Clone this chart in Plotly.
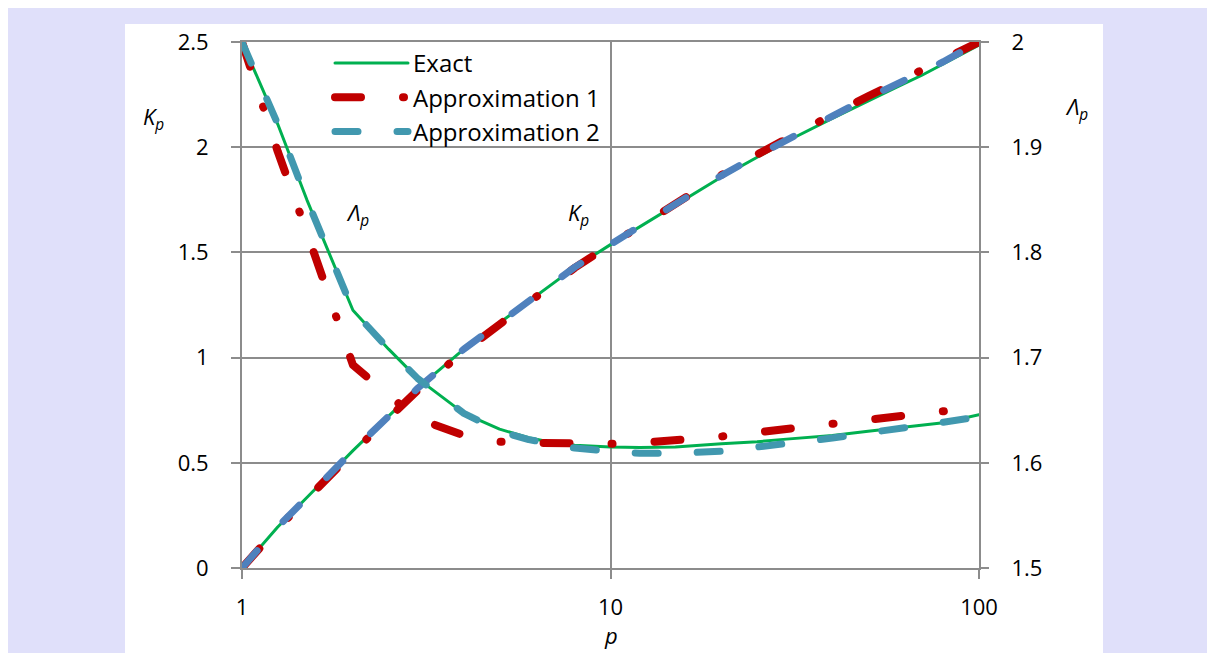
import plotly.graph_objects as go

# ---------------- data ----------------
p_exact = [1, 1.25, 1.5, 1.75, 2, 2.5, 3, 4, 5, 6, 7, 8, 10, 12, 15, 20, 25, 30, 40, 50, 60, 70, 80, 100]
K_exact = [0, 0.195, 0.335, 0.457, 0.558, 0.722, 0.855, 1.04, 1.166, 1.27, 1.356, 1.429, 1.537,
           1.622, 1.725, 1.858, 1.952, 2.027, 2.137, 2.221, 2.287, 2.342, 2.395, 2.485]
L_exact = [2.0, 1.922, 1.850, 1.794, 1.745, 1.708, 1.680, 1.647, 1.632, 1.6238, 1.619, 1.6167, 1.615,
           1.6145, 1.615, 1.618, 1.620, 1.6225, 1.626, 1.630, 1.633, 1.6355, 1.638, 1.6457]

p_approx1 = [1, 1.25, 1.5, 1.75, 2, 2.5, 3, 4, 5, 6, 7, 8, 10, 12, 15, 20, 25, 30, 40, 50, 60, 70, 80, 100]
K_approx1 = [0, 0.19, 0.328, 0.45, 0.55, 0.712, 0.845, 1.03, 1.157, 1.263, 1.352, 1.427, 1.537,
             1.625, 1.732, 1.868, 1.965, 2.042, 2.155, 2.242, 2.31, 2.367, 2.414, 2.5]
L_approx1 = [2.0, 1.896, 1.819, 1.752, 1.693, 1.664, 1.642, 1.626, 1.620, 1.619, 1.6185, 1.618, 1.618,
             1.619, 1.621, 1.625, 1.629, 1.632, 1.636, 1.641, 1.644, 1.6465, 1.649, 1.6536]

p_approx2 = [1, 1.25, 1.5, 1.75, 2, 2.5, 3, 4, 5, 6, 7, 8, 10, 12, 15, 20, 25, 30, 40, 50, 60, 70, 80, 100]
K_approx2 = [0, 0.195, 0.335, 0.458, 0.558, 0.722, 0.855, 1.04, 1.166, 1.27, 1.356, 1.43, 1.538,
             1.624, 1.73, 1.865, 1.96, 2.036, 2.148, 2.235, 2.302, 2.36, 2.406, 2.5]
L_approx2 = [2.0, 1.922, 1.850, 1.794, 1.745, 1.708, 1.680, 1.647, 1.630, 1.622, 1.6175, 1.614, 1.611,
             1.609, 1.609, 1.611, 1.615, 1.618, 1.6235, 1.6285, 1.632, 1.635, 1.6385, 1.6437]

x_tickvals = [1, 10, 100]
x_ticktext = ["1", "10", "100"]
yK_tickvals = [0, 0.5, 1, 1.5, 2, 2.5]
yK_ticktext = ["0", "0.5", "1", "1.5", "2", "2.5"]
yL_tickvals = [1.5, 1.6, 1.7, 1.8, 1.9, 2.0]
yL_ticktext = ["1.5", "1.6", "1.7", "1.8", "1.9", "2"]

# ---------------- style ----------------
FONT = "Open Sans"
GREEN = "#00B050"
RED = "#C00000"
TEAL = "#4198AF"
BLUE = "#4F81BD"
GRID = "#8C8C8C"
LAV = "#E0E0FA"

DASH_RED = "26px,42px,1px,42px"
DASH_BLUE = "23px,39px"

fig = go.Figure()

# Exact
fig.add_trace(go.Scatter(x=p_exact, y=K_exact, mode="lines", name="Exact",
                         line=dict(color=GREEN, width=3), legendrank=1))
fig.add_trace(go.Scatter(x=p_exact, y=L_exact, mode="lines", name="Exact", yaxis="y2",
                         line=dict(color=GREEN, width=3), showlegend=False))
# Approximation 1
fig.add_trace(go.Scatter(x=p_approx1, y=K_approx1, mode="lines", name="Approximation 1",
                         line=dict(color=RED, width=8, dash=DASH_RED), showlegend=False))
fig.add_trace(go.Scatter(x=p_approx1, y=L_approx1, mode="lines", name="Approximation 1", yaxis="y2",
                         line=dict(color=RED, width=8, dash=DASH_RED), legendrank=2))
# Approximation 2
fig.add_trace(go.Scatter(x=p_approx2, y=K_approx2, mode="lines", name="Approximation 2",
                         line=dict(color=BLUE, width=7, dash=DASH_BLUE), showlegend=False))
fig.add_trace(go.Scatter(x=p_approx2, y=L_approx2, mode="lines", name="Approximation 2", yaxis="y2",
                         line=dict(color=TEAL, width=7, dash=DASH_BLUE), legendrank=3))

W, H = 1207, 645
L, R, T, B = 234, 236, 34, 85
pw, ph = W - L - R, H - T - B

def px_x(v):
    return (v - L) / pw

def px_y(v):
    return (H - B - v) / ph

axis_common = dict(showgrid=True, gridcolor=GRID, gridwidth=2, zeroline=False,
                   showline=True, mirror=True, linecolor=GRID, linewidth=2,
                   ticks="outside", ticklen=9, tickwidth=2, tickcolor=GRID,
                   tickfont=dict(size=22))

fig.update_layout(
    width=W, height=H, autosize=False,
    margin=dict(l=L, r=R, t=T, b=B, pad=0),
    paper_bgcolor=LAV, plot_bgcolor="white",
    font=dict(family=FONT, size=22, color="black"),
    showlegend=True,
    legend=dict(x=px_x(322), y=px_y(33), xanchor="left", yanchor="top",
                bgcolor="rgba(0,0,0,0)", font=dict(size=24, family=FONT),
                itemwidth=73, tracegroupgap=0, traceorder="normal"),
    xaxis=dict(type="log", range=[0, 2], tickvals=x_tickvals, ticktext=x_ticktext,
               ticklabelstandoff=10, **axis_common),
    yaxis=dict(range=[0, 2.5], tickvals=yK_tickvals, ticktext=yK_ticktext,
               ticklabelstandoff=18, **axis_common),
    yaxis2=dict(range=[1.5, 2.0], tickvals=yL_tickvals, ticktext=yL_ticktext,
                overlaying="y", side="right", showgrid=False, zeroline=False, showline=False,
                ticks="outside", ticklen=9, tickwidth=2, tickcolor=GRID,
                ticklabelstandoff=18, tickfont=dict(size=22)),
    shapes=[dict(type="rect", xref="paper", yref="paper", layer="below",
                 x0=px_x(117), x1=px_x(1095), y0=px_y(H + 40), y1=px_y(16),
                 fillcolor="white", line=dict(width=0))],
)

ann_font = dict(family=FONT, size=22, color="black")
anns = [
    ("<i>K<sub>p</sub></i>", px_x(145), px_y(110)),
    ("<i>Λ<sub>p</sub></i>", px_x(1068), px_y(100)),
    ("<i>p</i>", 0.5, px_y(627)),
    ("<i>Λ<sub>p</sub></i>", px_x(349), px_y(206)),
    ("<i>K<sub>p</sub></i>", px_x(570), px_y(206)),
]
for txt, ax, ay in anns:
    fig.add_annotation(text=txt, x=ax, y=ay, xref="paper", yref="paper",
                       showarrow=False, xanchor="center", yanchor="middle", font=ann_font)

post = """
document.documentElement.style.overflow='hidden';
document.body.style.overflow='hidden';
var gd=document.getElementById('{plot_id}');
gd.querySelectorAll('path.js-line').forEach(function(p){p.style.strokeLinecap='round';p.style.strokeLinejoin='round';});
"""
fig.write_html("out.html", post_script=post)
